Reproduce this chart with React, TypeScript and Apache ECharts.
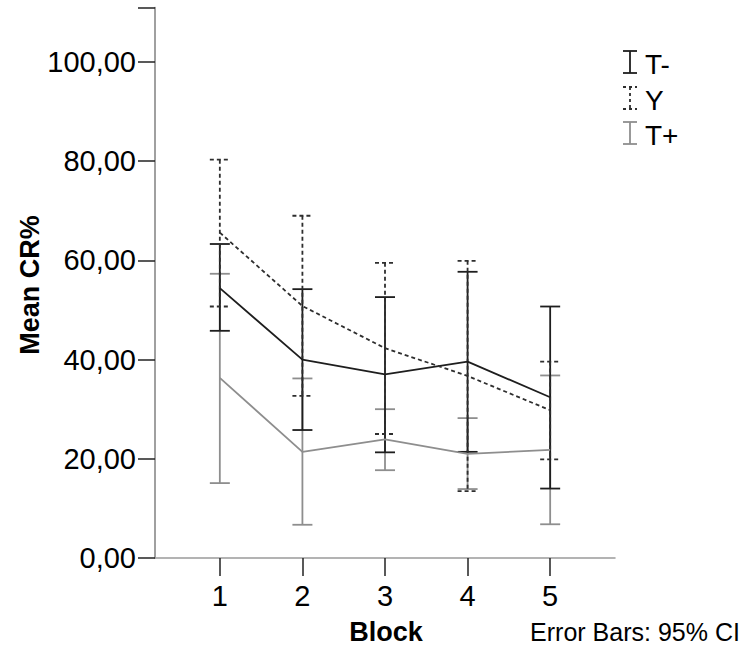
import React, { useEffect, useRef } from "react";
import * as echarts from "echarts";

const blocks = [1, 2, 3, 4, 5];
const yTicks = [0, 20, 40, 60, 80, 100];

const tMinusMean = [54.4, 40.0, 37.0, 39.6, 32.4];
const tMinusLow = [45.8, 25.8, 21.3, 21.4, 14.0];
const tMinusHigh = [63.3, 54.2, 52.6, 57.7, 50.7];

const yMean = [65.6, 50.8, 42.3, 36.7, 29.8];
const yLow = [50.7, 32.7, 25.0, 13.5, 19.9];
const yHigh = [80.3, 69.0, 59.5, 59.9, 39.6];

const tPlusMean = [36.3, 21.4, 23.9, 21.0, 21.8];
const tPlusLow = [15.1, 6.7, 17.7, 13.9, 6.8];
const tPlusHigh = [57.3, 36.2, 30.0, 28.2, 36.8];

const seriesNames = ["T-", "Y", "T+"];

const FONT = "'Liberation Sans', Arial, sans-serif";

const styles = [
  { color: "#1e1e1e", dash: null as number[] | null },
  { color: "#2e2e2e", dash: [4, 3] },
  { color: "#8e8e8e", dash: null as number[] | null },
];

const LW = 1.8;

function errorSeries(name: string, low: number[], high: number[], idx: number) {
  const st = styles[idx];
  return {
    type: "custom",
    name,
    data: blocks.map((b, i) => [b, low[i], high[i]]),
    encode: { x: 0, y: [1, 2] },
    z: 3,
    renderItem: (params: any, api: any) => {
      const x = api.value(0);
      const lo = api.coord([x, api.value(1)]);
      const hi = api.coord([x, api.value(2)]);
      const hw = 10;
      const style: any = { stroke: st.color, lineWidth: LW, fill: null };
      if (st.dash) style.lineDash = st.dash;
      return {
        type: "group",
        children: [
          { type: "line", shape: { x1: hi[0], y1: hi[1], x2: lo[0], y2: lo[1] }, style },
          { type: "line", shape: { x1: hi[0] - hw, y1: hi[1], x2: hi[0] + hw, y2: hi[1] }, style },
          { type: "line", shape: { x1: lo[0] - hw, y1: lo[1], x2: lo[0] + hw, y2: lo[1] }, style },
        ],
      };
    },
  };
}

function lineSeries(name: string, mean: number[], idx: number) {
  const st = styles[idx];
  return {
    type: "line",
    name,
    data: blocks.map((b, i) => [b, mean[i]]),
    symbol: "none",
    z: 4,
    lineStyle: {
      color: st.color,
      width: LW,
      type: st.dash ? st.dash : "solid",
    },
  };
}

function legendItem(name: string, idx: number, cy: number) {
  const st = styles[idx];
  const style: any = { stroke: st.color, lineWidth: LW };
  if (st.dash) style.lineDash = [3, 3];
  const cx = 630;
  const top = cy - 11;
  const bot = cy + 11;
  return {
    type: "group",
    children: [
      { type: "line", shape: { x1: cx, y1: top, x2: cx, y2: bot }, style },
      { type: "line", shape: { x1: cx - 7, y1: top, x2: cx + 7, y2: top }, style },
      { type: "line", shape: { x1: cx - 7, y1: bot, x2: cx + 7, y2: bot }, style },
      {
        type: "text",
        x: 645,
        y: cy + 2,
        style: {
          text: name,
          fill: "#000",
          font: `28px ${FONT}`,
          textAlign: "left",
          textVerticalAlign: "middle",
          align: "left",
          verticalAlign: "middle",
        },
      },
    ],
  };
}

export default function App() {
  const ref = useRef<HTMLDivElement>(null);
  useEffect(() => {
    if (!ref.current) return;
    const chart = echarts.init(ref.current, null, { renderer: "svg" });
    chart.setOption({
      animation: false,
      backgroundColor: "#fff",
      grid: { left: 155, right: 130, top: 7.4, bottom: 90, containLabel: false },
      xAxis: {
        type: "value",
        min: 0.215,
        max: 5.785,
        splitLine: { show: false },
        axisLine: { show: true, lineStyle: { color: "#9a9a9a", width: 1.5 } },
        axisTick: {
          show: true,
          customValues: blocks,
          length: 18,
          lineStyle: { color: "#222", width: 1.5 },
        },
        axisLabel: {
          customValues: blocks,
          margin: 23,
          fontSize: 29,
          fontFamily: FONT,
          color: "#000",
        },
      },
      yAxis: {
        type: "value",
        min: 0,
        max: 111,
        interval: 20,
        splitLine: { show: false },
        axisLine: { show: true, lineStyle: { color: "#808080", width: 1.5 } },
        axisTick: { show: true, length: 17, lineStyle: { color: "#222", width: 1.5 } },
        axisLabel: {
          customValues: yTicks,
          margin: 19,
          fontSize: 29,
          fontFamily: FONT,
          color: "#000",
          formatter: (v: number) => v.toFixed(2).replace(".", ","),
        },
      },
      series: [
        errorSeries(seriesNames[2], tPlusLow, tPlusHigh, 2),
        errorSeries(seriesNames[0], tMinusLow, tMinusHigh, 0),
        errorSeries(seriesNames[1], yLow, yHigh, 1),
        lineSeries(seriesNames[2], tPlusMean, 2),
        lineSeries(seriesNames[0], tMinusMean, 0),
        lineSeries(seriesNames[1], yMean, 1),
      ],
      graphic: [
        legendItem(seriesNames[0], 0, 62),
        legendItem(seriesNames[1], 1, 98),
        legendItem(seriesNames[2], 2, 133),
        {
          type: "text",
          x: 386,
          y: 632,
          style: {
            text: "Block",
            fill: "#000",
            font: `bold 27px ${FONT}`,
            textAlign: "center",
            textVerticalAlign: "middle",
            align: "center",
            verticalAlign: "middle",
          },
        },
        {
          type: "text",
          x: 635,
          y: 632,
          style: {
            text: "Error Bars: 95% CI",
            fill: "#000",
            font: `25px ${FONT}`,
            textAlign: "center",
            textVerticalAlign: "middle",
            align: "center",
            verticalAlign: "middle",
          },
        },
        {
          type: "text",
          x: 30,
          y: 285,
          rotation: Math.PI / 2,
          style: {
            text: "Mean CR%",
            fill: "#000",
            font: `bold 27px ${FONT}`,
            textAlign: "center",
            textVerticalAlign: "middle",
            align: "center",
            verticalAlign: "middle",
          },
        },
      ],
    });
    return () => chart.dispose();
  }, []);
  return (
    <div
      ref={ref}
      style={{ position: "fixed", left: 0, top: 0, width: 745, height: 648 }}
    />
  );
}
